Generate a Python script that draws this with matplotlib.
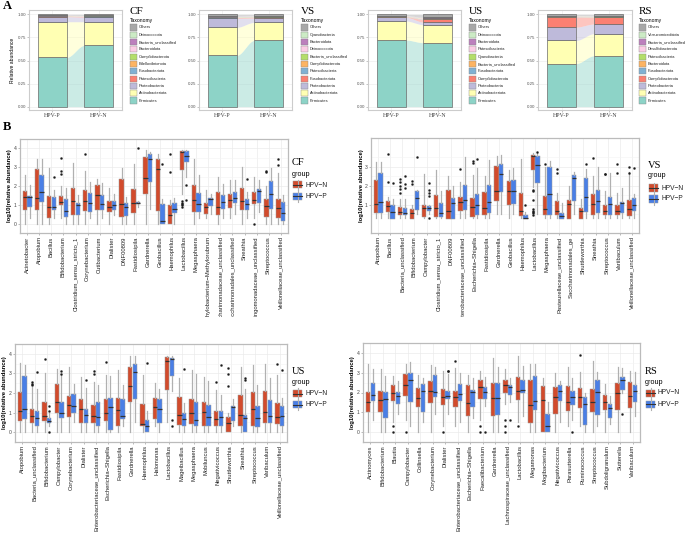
import numpy as np
import matplotlib
matplotlib.use("Agg")
import matplotlib.pyplot as plt
from matplotlib.patches import Rectangle
from matplotlib.lines import Line2D
from matplotlib.transforms import Bbox, TransformedBbox

plt.rcParams['font.family'] = ['Liberation Sans', 'DejaVu Sans']
SERIF = ['Liberation Serif', 'DejaVu Serif']

# ---------------- Panel A data (relative abundance, bottom -> top) ----------------
groups_A = ['HPV-P', 'HPV-N']
phylum_colors = ['#8DD3C7', '#FFFFB3', '#BEBADA', '#FB8072', '#80B1D3', '#FDB462',
                 '#B3DE69', '#FCCDE5', '#BC80BD', '#CCEBC5', '#A8A8A8']

cf_taxa = ['Firmicutes', 'Actinobacteriota', 'Proteobacteria', 'Patescibacteria', 'Fusobacteriota',
           'Bdellovibrionota', 'Campilobacterota', 'Bacteroidota', 'Bacteria_unclassified',
           'Deinococcota', 'Others']
cf_P = [0.534, 0.386, 0.055, 0.006, 0.002, 0.002, 0.002, 0.002, 0.002, 0.001, 0.008]
cf_N = [0.664, 0.256, 0.050, 0.006, 0.002, 0.002, 0.002, 0.003, 0.002, 0.001, 0.012]

vs_taxa = ['Firmicutes', 'Actinobacteriota', 'Proteobacteria', 'Fusobacteriota', 'Patescibacteria',
           'Campilobacterota', 'Bacteria_unclassified', 'Deinococcota', 'Bacteroidota',
           'Cyanobacteria', 'Others']
vs_P = [0.556, 0.303, 0.098, 0.008, 0.004, 0.003, 0.003, 0.002, 0.003, 0.002, 0.018]
vs_N = [0.718, 0.195, 0.047, 0.008, 0.004, 0.003, 0.003, 0.002, 0.003, 0.002, 0.015]

us_taxa = ['Firmicutes', 'Actinobacteriota', 'Proteobacteria', 'Campilobacterota', 'Fusobacteriota',
           'Bacteria_unclassified', 'Cyanobacteria', 'Patescibacteria', 'Bacteroidota',
           'Deinococcota', 'Others']
us_P = [0.722, 0.206, 0.040, 0.004, 0.003, 0.003, 0.002, 0.002, 0.003, 0.002, 0.013]
us_N = [0.693, 0.195, 0.029, 0.029, 0.006, 0.004, 0.003, 0.003, 0.004, 0.002, 0.032]

rs_taxa = ['Firmicutes', 'Actinobacteriota', 'Proteobacteria', 'Campilobacterota', 'Fusobacteriota',
           'Bacteroidota', 'Patescibacteria', 'Desulfobacterota', 'Bacteria_unclassified',
           'Verrucomicrobiota', 'Others']
rs_P = [0.467, 0.250, 0.145, 0.109, 0.004, 0.004, 0.002, 0.002, 0.002, 0.002, 0.013]
rs_N = [0.551, 0.239, 0.105, 0.072, 0.004, 0.004, 0.002, 0.002, 0.002, 0.002, 0.017]

# ---------------- Panel B data: [whislo, q1, median, q3, whishi] ----------------
cf_genera = ['Acinetobacter', 'Atopobium', 'Bacillus', 'Bifidobacterium', 'Clostridium_sensu_stricto_1',
             'Corynebacterium', 'Cutibacterium', 'Dialister', 'DNF00809', 'Fastidiosipila', 'Gardnerella',
             'Geobacillus', 'Haemophilus', 'Lactobacillus', 'Megasphaera', 'Methylobacterium\u2212Methylorubrum',
             'Saccharimonadaceae_unclassified', 'Saccharimonadales_unclassified', 'Sneathia',
             'Sphingomonadaceae_unclassified', 'Streptococcus', 'Veillonellaceae_unclassified']
cf_N_box = [[0, 0.74, 1.40, 1.75, 2.6], [0, 0.74, 1.36, 2.91, 3.46], [0, 0.28, 0.9, 1.49, 2.95],
            [0.3, 0.98, 1.15, 1.49, 2.0], [0, 0.47, 1.21, 1.9, 3.2], [0, 0.67, 1.21, 1.8, 2.8],
            [0, 0.7, 1.52, 2.06, 2.37], [0, 0.64, 0.87, 1.21, 1.88], [0, 0.33, 1.05, 2.36, 2.96],
            [0, 0.56, 1.10, 1.83, 3.15], [0, 1.57, 2.45, 3.55, 3.9], [0, 0.68, 2.92, 3.46, 3.7],
            [0, 0.0, 0.47, 1.0, 1.25], [1.6, 2.84, 3.82, 3.86, 3.9], [0, 0.62, 1.24, 2.03, 3.45],
            [0.3, 0.53, 0.86, 1.12, 1.8], [0, 0.48, 0.86, 1.7, 2.5], [0.3, 0.82, 1.25, 1.6, 2.3],
            [0, 0.7, 1.2, 1.87, 3.0], [0.3, 1.02, 1.28, 1.68, 2.5], [0, 0.33, 0.95, 1.3, 2.0],
            [0, 0.3, 0.85, 1.32, 2.7]]
cf_P_box = [[0.3, 0.87, 1.40, 1.49, 2.06], [0, 1.13, 1.7, 2.6, 3.46], [0.3, 0.7, 0.9, 1.4, 1.8],
            [0, 0.33, 0.67, 1.29, 1.88], [0, 0.47, 0.98, 1.09, 1.52], [0.3, 0.64, 1.09, 1.61, 2.2],
            [0.3, 0.7, 1.05, 1.52, 2.14], [0.48, 0.7, 0.98, 1.21, 1.6], [0, 0.43, 0.9, 1.09, 1.44],
            [0.9, 1.02, 1.09, 1.13, 1.2], [0.8, 2.22, 3.42, 3.68, 3.8], [0, 0, 0.15, 1.02, 1.3],
            [0, 0.55, 0.8, 1.08, 1.35], [2.5, 3.27, 3.58, 3.88, 3.9], [0.3, 0.62, 1.05, 1.65, 2.6],
            [0.5, 0.95, 1.3, 1.38, 1.6], [0.3, 0.8, 1.15, 1.53, 2.1], [0.5, 1.08, 1.38, 1.66, 2.3],
            [0.3, 0.75, 1.05, 1.33, 1.7], [0.6, 1.1, 1.75, 1.86, 2.3], [0, 0.77, 1.58, 2.27, 2.95],
            [0, 0.15, 0.58, 1.15, 1.5]]
cf_N_out = [[], [], [], [3.47, 2.8, 2.65], [], [3.68], [], [], [], [], [], [], [3.72, 2.75],
            [1.2, 1.12, 1.05, 0.97, 0.9], [], [], [], [], [], [0.0], [2.77, 2.8], [3.45, 3.1]]
cf_P_out = [[], [], [2.5], [], [], [], [], [], [], [4.0], [], [3.18], [], [2.03, 1.25], [], [], [],
            [], [2.38], [], [], []]

vs_genera = ['Atopobium', 'Bacillus', 'Bacteria_unclassified', 'Bifidobacterium', 'Campylobacter',
             'Clostridium_sensu_stricto_1', 'DNF00809', 'Enterobacteriaceae_unclassified',
             'Escherichia\u2212Shigella', 'Fastidiosipila', 'Gardnerella', 'Geobacillus', 'Haemophilus',
             'Lactobacillus', 'Megasphaera', 'Pasteurellaceae_unclassified', 'Saccharimonadales_ge',
             'Shuttleworthia', 'Sneathia', 'Streptococcus', 'Variibaculum', 'Veillonellaceae_unclassified']
vs_N_box = [[0.3, 0.57, 1.04, 2.3, 3.25], [0.3, 0.6, 0.91, 1.16, 1.4], [0.3, 0.45, 0.58, 0.87, 1.3],
            [0.25, 0.25, 0.57, 0.76, 1.0], [0.3, 0.34, 0.84, 0.97, 2.6], [0.3, 0.34, 0.83, 1.51, 2.8],
            [0.25, 0.25, 0.67, 1.75, 2.5], [0.3, 0.64, 1.14, 1.41, 2.2], [0.3, 0.32, 0.87, 1.36, 2.55],
            [0.3, 0.43, 0.84, 1.66, 2.5], [0.5, 1.16, 1.72, 3.01, 3.55], [0.3, 0.96, 1.7, 2.25, 2.8],
            [0.3, 0.38, 0.67, 1.59, 3.4], [1.9, 2.8, 3.54, 3.63, 3.7], [0.3, 0.43, 0.75, 1.46, 3.0],
            [0.3, 0.43, 0.64, 1.17, 1.6], [0.25, 0.25, 1.04, 1.26, 2.0], [0.25, 0.25, 0.67, 0.84, 1.3],
            [0.3, 0.43, 1.04, 1.55, 2.5], [0.3, 0.43, 0.67, 0.96, 1.7], [0.3, 0.43, 0.67, 1.0, 1.6],
            [0.3, 0.38, 0.78, 1.26, 2.7]]
vs_P_box = [[0.3, 0.57, 1.15, 2.64, 3.25], [0.25, 0.25, 0.59, 0.99, 1.3], [0.3, 0.45, 0.57, 0.8, 1.3],
            [0.5, 0.7, 1.33, 1.7, 1.75], [0.5, 0.67, 0.8, 0.9, 1.0], [0.3, 0.34, 0.57, 1.07, 1.7],
            [0.25, 0.25, 1.07, 1.32, 2.0], [0.3, 0.7, 1.26, 2.05, 3.5], [0.3, 0.43, 0.97, 1.53, 2.9],
            [0.3, 0.57, 1.13, 2.01, 3.35], [0.5, 1.64, 2.58, 3.14, 3.6], [0.5, 1.04, 1.7, 2.29, 2.9],
            [0.25, 0.25, 0.3, 0.43, 0.6], [0.5, 2.12, 3.1, 3.57, 3.7], [0.3, 0.43, 1.53, 2.97, 3.3],
            [0.25, 0.25, 0.38, 0.57, 1.1], [0.5, 1.17, 2.38, 2.54, 2.7], [0.3, 0.6, 1.39, 2.41, 2.85],
            [0.3, 0.57, 1.17, 1.75, 2.95], [0.3, 0.43, 1.04, 1.42, 2.65], [0.3, 0.57, 1.09, 1.13, 1.85],
            [0.3, 0.64, 0.96, 1.33, 1.55]]
vs_N_out = [[], [3.65, 2.17], [2.33, 2.17, 2.0, 1.83, 1.6], [2.25, 2.07], [], [], [], [2.85], [3.3, 3.17],
            [], [], [], [], [1.75, 1.7, 1.25, 0.75, 0.68, 0.62, 0.55, 0.45], [3.15], [2.88, 2.65], [],
            [], [3.45], [2.62, 2.6], [3.15, 2.65], [2.95, 2.68]]
vs_P_out = [[], [2.15], [2.5, 2.1, 1.85], [3.5], [2.15, 1.75, 1.58, 1.45, 0.28], [], [], [], [3.42], [],
            [], [], [0.95], [3.77], [], [], [], [3.15], [], [], [], [2.92]]

us_genera = ['Atopobium', 'Bacteria_unclassified', 'Bifidobacterium', 'Campylobacter', 'Corynebacterium',
             'Dialister', 'Enterobacteriaceae_unclassified', 'Escherichia\u2212Shigella', 'Fastidiosipila',
             'Gardnerella', 'Haemophilus', 'Halomonas', 'Lactobacillus', 'Mageibacillus', 'Megasphaera',
             'Mobiluncus', 'Negativicoccus', 'Shuttleworthia', 'Sneathia', 'Streptococcus', 'Varibaculum',
             'Veillonellaceae_unclassified']
us_N_box = [[0, 0.55, 1.1, 2.05, 3.55], [0, 0.49, 0.83, 1.18, 2.3], [0, 0.56, 0.83, 1.55, 3.0],
            [0, 1.0, 1.52, 2.46, 3.25], [0, 0.78, 1.4, 1.86, 3.35], [0, 0.46, 1.18, 1.7, 2.8],
            [0, 0.46, 0.81, 1.37, 2.55], [0, 0.59, 0.96, 1.67, 2.9], [0, 0.34, 1.11, 1.76, 3.15],
            [0, 1.52, 2.36, 3.32, 3.9], [0, 0.3, 0.44, 1.42, 2.9], [0.3, 0.69, 1.31, 1.74, 2.5],
            [0.5, 2.14, 3.62, 3.82, 3.9], [0, 0.37, 0.89, 1.79, 2.75], [0, 0.43, 0.96, 1.7, 3.15],
            [0, 0.3, 1.05, 1.55, 2.8], [0, 0.3, 0.66, 1.08, 2.15], [0, 0, 0.46, 0.78, 1.0],
            [0, 0.3, 0.9, 1.92, 3.35], [0, 0.3, 1.18, 2.07, 3.45], [0, 0.46, 1.05, 2.08, 3.5],
            [0, 0.41, 0.78, 1.49, 2.9]]
us_P_box = [[0, 0.68, 1.18, 2.85, 3.45], [0, 0.3, 0.7, 1.1, 2.2], [0.3, 0.46, 0.56, 0.7, 1.0],
            [0, 0.74, 1.0, 1.55, 2.9], [0.5, 0.99, 1.34, 1.93, 2.45], [0, 0.46, 0.9, 1.18, 2.25],
            [0, 0.3, 0.78, 1.55, 2.4], [0, 0.12, 1.3, 1.74, 2.85], [0.3, 0.66, 0.81, 1.7, 2.4],
            [0.5, 1.67, 3.06, 3.48, 3.9], [0, 0, 0.3, 0.6, 1.1], [0, 0.46, 1.18, 1.7, 2.2],
            [2.1, 2.88, 3.73, 3.79, 3.9], [0, 0.3, 0.68, 1.0, 1.5], [0, 0.3, 0.6, 1.55, 2.95],
            [0, 0.34, 0.78, 1.37, 2.6], [0, 0.3, 0.78, 1.1, 1.9], [0.3, 0.56, 1.3, 1.34, 1.7],
            [0, 0, 0.7, 0.89, 2.2], [0, 0.24, 0.7, 1.33, 2.4], [0, 0.46, 0.83, 1.62, 2.75],
            [0, 0.3, 0.83, 1.33, 1.75]]
us_N_out = [[], [2.55, 2.48, 2.42], [3.75], [], [], [], [3.12, 2.95], [3.6], [], [], [], [], [], [], [],
            [], [2.55], [3.3, 2.97, 2.38], [], [], [], [3.5]]
us_P_out = [[], [3.07], [1.33, 1.1, 0.0], [3.12, 2.97], [], [2.68], [], [], [], [], [3.55], [],
            [0.6, 0.3], [3.25], [], [], [3.42], [], [2.75, 2.68], [], [], [3.15]]

rs_genera = ['Actinomyces', 'Bifidobacterium', 'Blautia', 'Campylobacter', 'Collinsella', 'Corynebacterium',
             'Dialister', 'Enterobacteriaceae_unclassified', 'Escherichia\u2212Shigella', 'Faecalibacterium',
             'Gardnerella', 'Lachnospiraceae_unclassified', 'Lactobacillus', 'Megamonas', 'Mogibacterium',
             'Negativicoccus', 'Parasutterella', 'Ruminococcus', 'Streptococcus', 'Subdoligranulum',
             'Sutterella', 'Varibaculum']
rs_N_box = [[0, 1.0, 1.5, 2.03, 3.45], [0, 1.0, 1.64, 2.1, 3.2], [0.5, 1.57, 2.0, 2.36, 2.85],
            [0.6, 1.81, 2.39, 2.93, 3.45], [0, 1.25, 1.7, 2.24, 2.9], [0, 1.46, 2.07, 2.57, 3.4],
            [0.3, 1.36, 1.79, 2.19, 3.1], [0.3, 1.29, 1.79, 2.1, 3.25], [0, 0.83, 1.47, 2.36, 2.9],
            [0.6, 1.69, 2.26, 2.61, 3.1], [0, 0.81, 1.71, 2.46, 3.75], [1.4, 1.97, 2.4, 2.64, 3.2],
            [0.5, 1.6, 2.1, 2.79, 3.85], [0, 0.46, 1.36, 2.64, 3.45], [0, 0, 1.61, 2.31, 2.75],
            [0, 0.9, 1.76, 2.29, 3.0], [0.3, 1.07, 1.5, 2.31, 3.3], [0.3, 1.21, 1.76, 2.24, 3.05],
            [0, 1.04, 1.5, 2.17, 3.6], [0, 1.1, 1.5, 1.86, 2.45], [0, 1.14, 2.0, 2.47, 3.3],
            [0, 1.24, 1.81, 2.53, 3.1]]
rs_P_box = [[0.6, 1.57, 1.86, 2.47, 3.2], [0, 0.71, 1.67, 2.03, 2.85], [0.9, 1.41, 1.81, 2.04, 2.6],
            [0.3, 1.53, 2.64, 2.96, 3.55], [0.5, 1.0, 2.1, 2.43, 2.75], [0.9, 1.76, 2.04, 2.89, 3.3],
            [0.9, 1.67, 1.81, 2.1, 2.95], [0.5, 1.57, 1.93, 2.43, 3.0], [0.7, 1.29, 2.04, 2.14, 2.75],
            [1.3, 1.67, 2.04, 2.26, 2.8], [0, 0.86, 1.71, 2.47, 3.3], [1.5, 1.89, 2.26, 2.4, 2.75],
            [0.8, 1.96, 2.14, 2.64, 3.35], [0, 1.1, 1.57, 2.81, 3.45], [0, 0, 0.31, 0.9, 1.5],
            [0.5, 1.57, 2.07, 2.39, 2.6], [0.6, 1.36, 1.76, 2.1, 2.75], [0, 0.36, 1.43, 1.76, 2.0],
            [0.3, 0.86, 2.04, 2.61, 3.05], [0.4, 0.71, 1.21, 1.43, 1.8], [2.0, 2.14, 2.61, 2.76, 3.25],
            [0.8, 1.54, 2.07, 2.39, 3.05]]
rs_N_out = [[], [], [0.3, 0.0], [0.0], [], [], [0.0], [3.6], [], [0.3, 0.0], [], [0.6, 0.3, 0.0], [0.3],
            [], [], [], [], [3.9], [], [], [], []]
rs_P_out = [[], [], [], [], [], [], [3.07, 3.1], [], [], [0.0], [], [0.6], [], [], [], [], [0.0], [], [],
            [], [0.93], []]

RED = '#D24B2C'
BLUE = '#4A7FE6'

W, H = 685, 534
fig = plt.figure(figsize=(W / 100, H / 100), dpi=100)


def px_axes(l, t, r, b):
    return fig.add_axes([l / W, 1 - b / H, (r - l) / W, (b - t) / H])


def ftext(x, y, s, **kw):
    fig.text(x / W, 1 - y / H, s, **kw)


def frect(x, y, w, h, **kw):
    fig.add_artist(Rectangle((x / W, 1 - (y + h) / H), w / W, h / H, transform=fig.transFigure, **kw))


def fline(xs, ys, **kw):
    fig.add_artist(Line2D([v / W for v in xs], [1 - v / H for v in ys], transform=fig.transFigure, **kw))


# ---------------- Panel A ----------------
def stacked(box, vals_P, vals_N, taxa, title, lx, ylabel=False):
    ax = px_axes(*box)
    vals = np.array([vals_P, vals_N])
    cum = np.cumsum(vals, axis=1)
    bot = cum - vals
    bw = 0.62
    n = vals.shape[1]
    t = np.linspace(0, 1, 60)
    s = t * t * (3 - 2 * t)
    x0, x1 = 1 + bw / 2, 2 - bw / 2
    xx = x0 + (x1 - x0) * t
    for k in range(n):
        lo = bot[0, k] + (bot[1, k] - bot[0, k]) * s
        hi = cum[0, k] + (cum[1, k] - cum[0, k]) * s
        ax.fill_between(xx, lo, hi, color=phylum_colors[k], alpha=0.45, lw=0, zorder=2)
    for i in range(2):
        ax.bar([i + 1] * n, vals[i], bottom=bot[i], width=bw, color=phylum_colors,
               edgecolor='#6a6a6a', linewidth=0.5, zorder=3)
    ax.set_xlim(0.5, 2.5)
    ax.set_ylim(-0.036, 1.047)
    ax.set_yticks([0, 0.25, 0.5, 0.75, 1.0])
    ax.set_yticklabels(['0.00', '0.25', '0.50', '0.75', '1.00'], fontsize=3.2, color='#555555')
    ax.set_xticks([1, 2])
    ax.set_xticklabels(groups_A, fontsize=4.3, family=SERIF, color='#444444')
    ax.tick_params(length=1.2, width=0.4, color='#999999', pad=1)
    for sp in ax.spines.values():
        sp.set_color('#CCCCCC')
        sp.set_linewidth(0.8)
    ax.grid(True, color='#EEEEEE', lw=0.5, zorder=0)
    ax.set_axisbelow(True)
    if ylabel:
        ax.set_ylabel('Relative abundance', fontsize=3.6, labelpad=2)
    # legend
    ftext(lx, 12, title, family=SERIF, fontsize=8, va='center', ha='left')
    ftext(lx, 20.5, 'Taxonomy', fontsize=3.6, va='center')
    for j, k in enumerate(range(len(taxa) - 1, -1, -1)):
        y = 24.5 + j * 7.3
        frect(lx, y, 6.5, 6.0, facecolor=phylum_colors[k], edgecolor='#888888', lw=0.3)
        ftext(lx + 8.5, y + 3.0, taxa[k], fontsize=2.9, va='center', color='#222222')


stacked((29, 10, 122, 110), cf_P, cf_N, cf_taxa, 'CF', 130, ylabel=True)
stacked((199, 10, 292, 110), vs_P, vs_N, vs_taxa, 'VS', 301)
stacked((368, 10, 461, 110), us_P, us_N, us_taxa, 'US', 469)
stacked((538, 10, 632, 110), rs_P, rs_N, rs_taxa, 'RS', 639)

ftext(3, 6, 'A', family=SERIF, fontsize=9, fontweight='bold', va='center')
ftext(3, 127, 'B', family=SERIF, fontsize=9, fontweight='bold', va='center')


# ---------------- Panel B ----------------
def boxpanel(box, genera, nbox, pbox, nout, pout, ylim, yticks, clip_y=None):
    ax = px_axes(*box)
    n = len(genera)
    pos = np.arange(1, n + 1)
    for boxes, outs, off, col in [(nbox, nout, -0.19, RED), (pbox, pout, 0.19, BLUE)]:
        stats = [dict(whislo=b[0], q1=b[1], med=b[2], q3=b[3], whishi=b[4], fliers=o)
                 for b, o in zip(boxes, outs)]
        ax.bxp(stats, positions=pos + off, widths=0.36, patch_artist=True, showcaps=False,
               boxprops=dict(facecolor=col, edgecolor='#9C9C9C', linewidth=0.35),
               whiskerprops=dict(color='#B0B0B0', linewidth=0.9),
               medianprops=dict(color='#333333', linewidth=0.9),
               flierprops=dict(marker='o', markersize=1.5, markerfacecolor='#1A1A1A',
                               markeredgecolor='#1A1A1A', markeredgewidth=0.2),
               manage_ticks=False, zorder=3)
    ax.set_xlim(0.4, n + 0.6)
    ax.set_ylim(*ylim)
    ax.set_xticks(pos)
    ax.set_xticklabels(genera, rotation=90, fontsize=4.2, color='#222222')
    ax.set_yticks(yticks)
    ax.set_yticklabels([str(v) for v in yticks], fontsize=3.6, color='#444444')
    ax.set_yticks([v + 0.5 for v in range(-1, 5)], minor=True)
    ax.tick_params(length=1.2, width=0.4, color='#888888', pad=1.2)
    ax.tick_params(which='minor', length=0)
    ax.grid(True, which='major', color='#EBEBEB', lw=0.5)
    ax.grid(True, which='minor', axis='y', color='#F4F4F4', lw=0.4)
    ax.set_axisbelow(True)
    for sp in ax.spines.values():
        sp.set_color('#BBBBBB')
        sp.set_linewidth(0.9)
    ax.set_ylabel('log10(relative abundance)', fontsize=4.2, fontweight='bold', labelpad=1)
    if clip_y is not None:
        cb = TransformedBbox(Bbox([[0, 1 - clip_y / H], [1, 1]]), fig.transFigure)
        for lbl in ax.get_xticklabels():
            lbl.set_clip_on(True)
            lbl.set_clip_box(cb)
    return ax


def legendB(x, ys, title):
    yt, yg, yn, yp = ys
    ftext(x, yt, title, family=SERIF, fontsize=7.5, va='center')
    ftext(x, yg, 'group', fontsize=5.2, va='center')
    for y, col, lab in [(yn, RED, 'HPV\u2212N'), (yp, BLUE, 'HPV\u2212P')]:
        fline([x + 5.5, x + 5.5], [y - 5.5, y + 5.5], color='#B0B0B0', lw=0.8)
        frect(x + 1, y - 3.5, 9, 7, facecolor=col, edgecolor='#9C9C9C', lw=0.35)
        fline([x + 1, x + 10], [y, y], color='#333333', lw=0.8)
        ftext(x + 13, y, lab, fontsize=4.8, va='center', color='#222222')


boxpanel((20, 139, 288, 233), cf_genera, cf_N_box, cf_P_box, cf_N_out, cf_P_out,
         (-0.25, 4.13), [0, 1, 2, 3, 4], clip_y=317)
legendB(292, (162.5, 174, 185, 196), 'CF')

boxpanel((371, 138, 639, 233), vs_genera, vs_N_box, vs_P_box, vs_N_out, vs_P_out,
         (0.15, 3.85), [1, 2, 3], clip_y=317)
legendB(648, (165, 176, 188, 199), 'VS')

boxpanel((15, 344, 287, 442), us_genera, us_N_box, us_P_box, us_N_out, us_P_out,
         (-0.19, 4.15), [0, 1, 2, 3, 4])
legendB(292, (371, 382, 393.5, 404.5), 'US')

boxpanel((363, 343, 640, 442), rs_genera, rs_N_box, rs_P_box, rs_N_out, rs_P_out,
         (-0.16, 4.09), [0, 1, 2, 3, 4])
legendB(645, (372, 382, 393, 404), 'RS')

fig.savefig('out.png', dpi=100)
